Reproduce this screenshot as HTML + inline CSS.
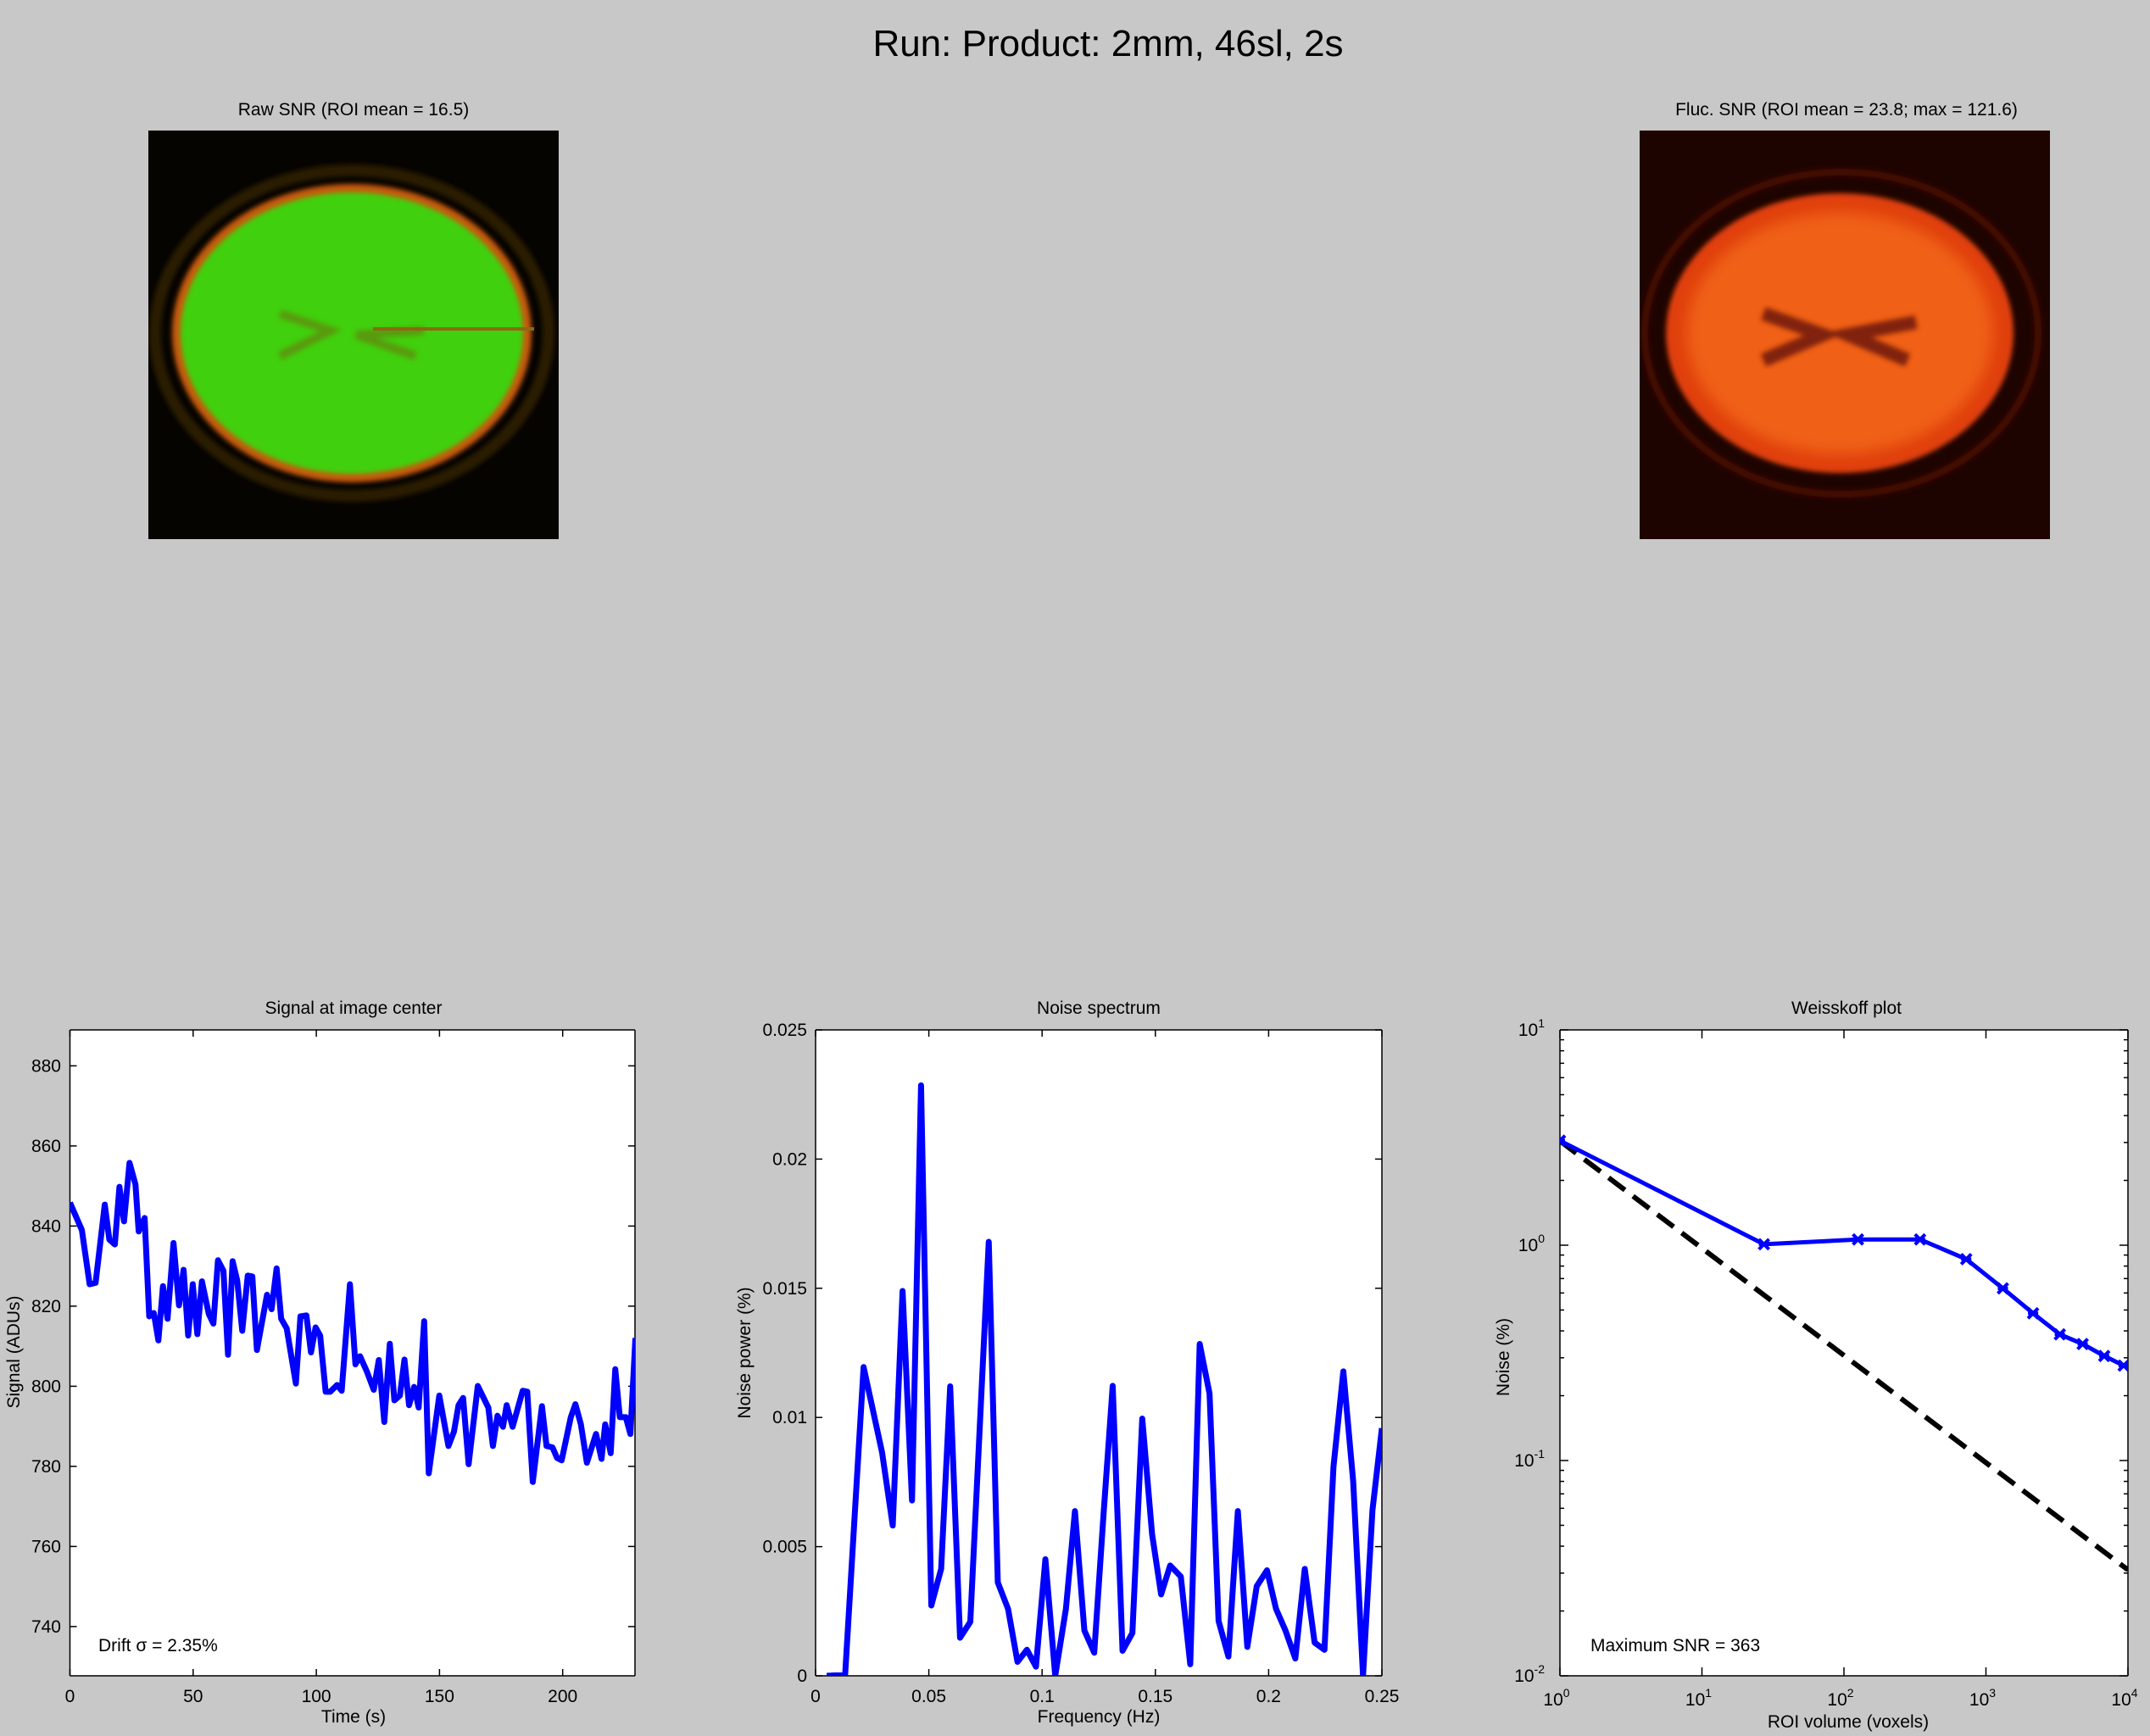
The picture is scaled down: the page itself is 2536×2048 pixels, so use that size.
<!DOCTYPE html>
<html><head><meta charset="utf-8"><style>
html,body{margin:0;padding:0;background:#c8c8c8;}
svg{display:block;}
text{font-family:"Liberation Sans",sans-serif;fill:#000;}
</style></head><body>
<svg id="s" width="2536" height="2048" viewBox="0 0 2536 2048" xmlns="http://www.w3.org/2000/svg">
<defs>
<filter id="bl" x="-20%" y="-20%" width="140%" height="140%"><feGaussianBlur stdDeviation="3"/></filter>
<filter id="bl2" x="-20%" y="-20%" width="140%" height="140%"><feGaussianBlur stdDeviation="8"/></filter>
<clipPath id="c1"><rect x="175" y="154" width="484" height="482"/></clipPath>
<clipPath id="c2"><rect x="1934" y="154" width="484" height="482"/></clipPath>
<clipPath id="p1"><rect x="82.5" y="1215" width="667" height="762"/></clipPath>
<clipPath id="p2"><rect x="962" y="1215" width="668" height="762"/></clipPath>
<clipPath id="p3"><rect x="1840" y="1215" width="670" height="762"/></clipPath>
</defs>
<rect width="2536" height="2048" fill="#c8c8c8"/>
<text x="1307" y="66" font-size="44" text-anchor="middle">Run: Product: 2mm, 46sl, 2s</text>

<text x="417" y="136" font-size="21" text-anchor="middle">Raw SNR (ROI mean = 16.5)</text>
<g clip-path="url(#c1)">
<rect x="175" y="154" width="484" height="482" fill="#060400"/>
<ellipse cx="415" cy="393" rx="232" ry="192" fill="none" stroke="#2a1e06" stroke-width="14" filter="url(#bl)"/>
<ellipse cx="415" cy="393" rx="212" ry="176" fill="#c85a10" filter="url(#bl)"/>
<ellipse cx="415" cy="393" rx="202" ry="166" fill="#3fd00c" filter="url(#bl)"/>
<path d="M330 370 L390 390 L330 420 M500 390 L420 395 M420 395 L490 420" stroke="#5a9a10" stroke-width="10" fill="none" filter="url(#bl)"/>
<line x1="440" y1="388" x2="630" y2="388" stroke="#8a6a10" stroke-width="4"/>
</g>

<text x="2178" y="136" font-size="21" text-anchor="middle">Fluc. SNR (ROI mean = 23.8; max = 121.6)</text>
<g clip-path="url(#c2)">
<rect x="1934" y="154" width="484" height="482" fill="#1e0400"/>
<ellipse cx="2172" cy="393" rx="232" ry="190" fill="none" stroke="#4a0c00" stroke-width="8" filter="url(#bl)"/>
<ellipse cx="2170" cy="393" rx="205" ry="165" fill="#e04010" filter="url(#bl)"/>
<ellipse cx="2170" cy="393" rx="180" ry="142" fill="#f06018" filter="url(#bl2)"/>
<path d="M2080 370 L2150 395 L2080 425 M2260 380 L2180 395 L2250 425" stroke="#802008" stroke-width="16" fill="none" filter="url(#bl)"/>
</g>

<rect x="82.5" y="1215" width="667" height="762" fill="#fff"/>
<rect x="962" y="1215" width="668" height="762" fill="#fff"/>
<rect x="1840" y="1215" width="670" height="762" fill="#fff"/>
<g id="ticks" stroke="#000" stroke-width="1.5"></g>

<g clip-path="url(#p1)">
<polyline transform="translate(82.5,1215) scale(0.54052,0.56612) translate(-152,-98)" vector-effect="non-scaling-stroke" fill="none" stroke="#0000ff" stroke-width="7" stroke-linejoin="round"
points="152,458 178,515 195,628 208,625 228,462 238,535 250,545 260,425 270,497 282,375 295,420 302,518 315,490 325,695 335,688 345,745 355,632 365,700 378,542 390,672 400,598 410,735 420,628 430,732 440,622 455,690 465,710 475,578 487,600 497,775 507,580 517,620 528,725 540,610 550,612 560,765 582,650 592,680 603,595 613,700 625,720 645,835 655,695 668,693 678,770 688,718 698,735 710,852 720,852 735,838 745,850 763,628 775,795 785,778 800,810 815,848 826,786 838,915 850,752 860,870 872,860 882,785 892,880 903,842 913,885 925,705 935,1022 958,860 978,965 990,935 1000,880 1010,865 1022,1003 1042,840 1065,885 1075,965 1085,902 1097,925 1105,880 1118,925 1140,850 1150,852 1162,1040 1182,882 1192,965 1205,968 1215,990 1225,995 1245,905 1255,878 1267,920 1280,1000 1300,940 1312,992 1320,920 1332,980 1342,805 1352,905 1365,905 1375,940 1386,740"/>
</g>
<g clip-path="url(#p2)">
<polyline transform="translate(962,1215) scale(0.48406,0.56823) translate(-128,-103)" vector-effect="non-scaling-stroke" fill="none" stroke="#0000ff" stroke-width="7" stroke-linejoin="round"
points="155,1444 200,1442 245,803 290,980 316,1132 340,645 363,1080 385,218 410,1298 434,1222 456,843 480,1365 505,1332 550,543 572,1250 597,1305 620,1415 643,1390 665,1425 688,1202 712,1444 738,1305 760,1102 783,1350 807,1396 830,1105 852,842 876,1392 900,1355 924,910 948,1150 970,1275 992,1215 1018,1238 1041,1420 1064,755 1088,858 1110,1330 1134,1404 1157,1102 1180,1384 1203,1258 1228,1225 1250,1305 1273,1350 1297,1408 1320,1222 1344,1375 1368,1390 1390,1010 1414,812 1438,1040 1462,1444 1485,1100 1508,930"/>
</g>
<g clip-path="url(#p3)">
<line x1="1840" y1="1346" x2="2510" y2="1852" stroke="#000" stroke-width="6" stroke-dasharray="24,12"/>
<g transform="translate(1840,1215) scale(0.50873,0.5657) translate(-203,-97)">
<polyline vector-effect="non-scaling-stroke" fill="none" stroke="#0000ff" stroke-width="5" points="203,328 676,544 894,534 1038,534 1145,575 1230,636 1300,688 1362,732 1415,752 1465,777 1510,797"/>
</g>
<g id="marks" stroke="#0000ff" stroke-width="4"></g>
</g>

<text x="417" y="1196" font-size="21" text-anchor="middle">Signal at image center</text>
<text x="1296" y="1196" font-size="21" text-anchor="middle">Noise spectrum</text>
<text x="2178" y="1196" font-size="21" text-anchor="middle">Weisskoff plot</text>
<text x="417" y="2032" font-size="21" text-anchor="middle">Time (s)</text>
<text x="1296" y="2032" font-size="21" text-anchor="middle">Frequency (Hz)</text>
<text x="2180" y="2038" font-size="21" text-anchor="middle">ROI volume (voxels)</text>
<text transform="translate(23,1595) rotate(-90)" font-size="21" text-anchor="middle">Signal (ADUs)</text>
<text transform="translate(885,1596) rotate(-90)" font-size="21" text-anchor="middle">Noise power (%)</text>
<text transform="translate(1780,1601) rotate(-90)" font-size="21" text-anchor="middle">Noise (%)</text>
<text x="116" y="1948" font-size="21">Drift σ = 2.35%</text>
<text x="1876" y="1948" font-size="21">Maximum SNR = 363</text>
<g id="labels" font-size="21"></g>
</svg>
<script>
var NS="http://www.w3.org/2000/svg";
var T=document.getElementById('ticks'),L=document.getElementById('labels'),M=document.getElementById('marks');
function ln(p,x1,y1,x2,y2){var e=document.createElementNS(NS,'line');e.setAttribute('x1',x1);e.setAttribute('y1',y1);e.setAttribute('x2',x2);e.setAttribute('y2',y2);p.appendChild(e);}
function tx(x,y,s,a,sup){var e=document.createElementNS(NS,'text');e.setAttribute('x',x);e.setAttribute('y',y);e.setAttribute('text-anchor',a);e.textContent=s;if(sup!==undefined){var t=document.createElementNS(NS,'tspan');t.setAttribute('dy',-10);t.setAttribute('font-size',14);t.textContent=sup;e.appendChild(t);}L.appendChild(e);}
function box(x0,y0,x1,y1){ln(T,x0,y0,x1,y0);ln(T,x0,y1,x1,y1);ln(T,x0,y0,x0,y1);ln(T,x1,y0,x1,y1);}
function xt(x,y0,y1,len){ln(T,x,y1,x,y1-len);ln(T,x,y0,x,y0+len);}
function yt(y,x0,x1,len){ln(T,x0,y,x0+len,y);ln(T,x1,y,x1-len,y);}
box(82.5,1215,749,1977);
[0,50,100,150,200].forEach(function(v){var x=82.5+v*2.906;xt(x,1215,1977,8);tx(x,2008,String(v),'middle');});
for(var i=0;i<8;i++){var v=740+20*i,y=1918.9-94.5*i;yt(y,82.5,749,8);tx(72,y+7,String(v),'end');}
box(962,1215,1630,1977);
['0','0.05','0.1','0.15','0.2','0.25'].forEach(function(s,i){var x=962+133.6*i;xt(x,1215,1977,8);tx(x,2008,s,'middle');});
['0','0.005','0.01','0.015','0.02','0.025'].forEach(function(s,i){var y=1977-152.4*i;yt(y,962,1630,8);tx(952,y+7,s,'end');});
box(1840,1215,2510,1977);
var dx=167.5,dy=254;
for(var d=0;d<=4;d++){var x=1840+dx*d;xt(x,1215,1977,10);tx(x-4,2012,'10',"middle",String(d));}
for(var d=0;d<=3;d++){var y=1977-dy*d;yt(y,1840,2510,10);tx(1822,y+7,'10','end',String(d-2));
 if(d<3)for(var k=2;k<10;k++){yt(y-dy*Math.log10(k),1840,2510,5);}}
var pts=[[203,328],[676,544],[894,534],[1038,534],[1145,575],[1230,636],[1300,688],[1362,732],[1415,752],[1465,777],[1510,797]];
pts.forEach(function(p){var x=1840+(p[0]-203)*0.50873,y=1215+(p[1]-97)*0.5657,r=6;ln(M,x-r,y-r,x+r,y+r);ln(M,x-r,y+r,x+r,y-r);ln(M,x-r,y,x+r,y);});
</script>
</body></html>
